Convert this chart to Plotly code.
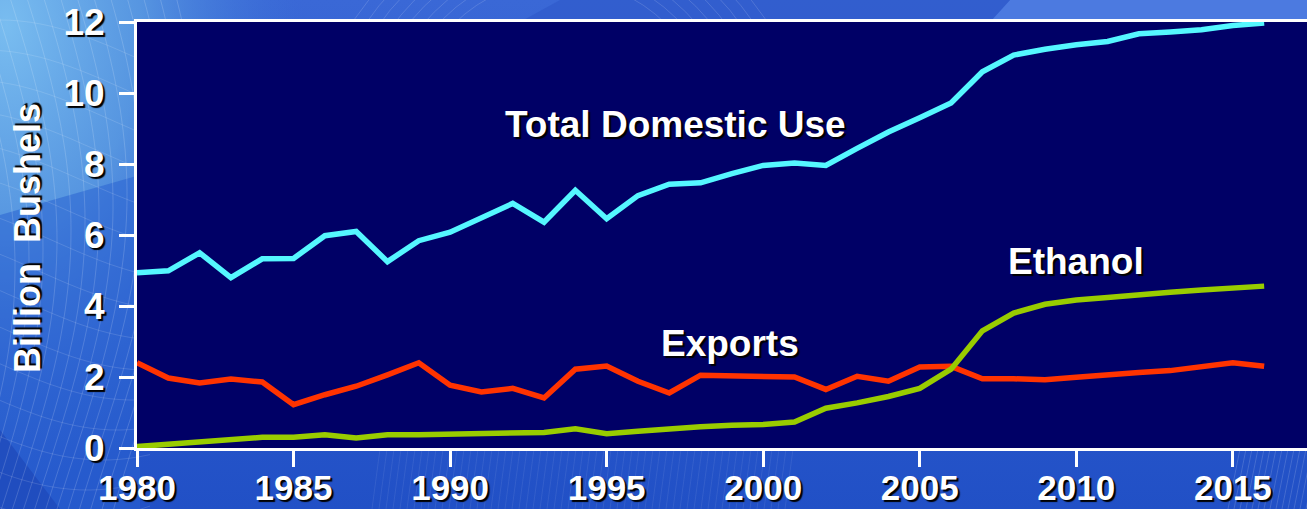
import base64
import math
import plotly.graph_objects as go

# ---- data (billion bushels, US corn) ----
years = list(range(1980, 2017))

total_domestic_use = [
    4.94, 4.99, 5.50, 4.80, 5.33, 5.34, 5.98, 6.10, 5.25, 5.84,
    6.08, 6.48, 6.89, 6.36, 7.26, 6.46, 7.11, 7.43, 7.47, 7.73,
    7.96, 8.03, 7.96, 8.44, 8.90, 9.30, 9.72, 10.60, 11.07, 11.23,
    11.36, 11.45, 11.67, 11.72, 11.78, 11.90, 11.97,
]

exports = [
    2.40, 1.97, 1.83, 1.94, 1.86, 1.22, 1.50, 1.74, 2.06, 2.40,
    1.77, 1.58, 1.68, 1.41, 2.22, 2.31, 1.88, 1.55, 2.05, 2.03,
    2.02, 2.00, 1.65, 2.02, 1.88, 2.28, 2.30, 1.95, 1.95, 1.92,
    1.99, 2.07, 2.13, 2.18, 2.30, 2.40, 2.30,
]

ethanol = [
    0.04, 0.10, 0.16, 0.23, 0.30, 0.30, 0.37, 0.28, 0.37, 0.37,
    0.38, 0.41, 0.43, 0.44, 0.54, 0.40, 0.47, 0.55, 0.60, 0.64,
    0.66, 0.73, 1.12, 1.27, 1.45, 1.68, 2.22, 3.30, 3.80, 4.05,
    4.17, 4.24, 4.33, 4.39, 4.45, 4.52, 4.56,
]

x_tick_years = [1980, 1985, 1990, 1995, 2000, 2005, 2010, 2015]
y_tick_values = [0, 2, 4, 6, 8, 10, 12]

series_labels = ["Total Domestic Use", "Exports", "Ethanol"]
series_colors = ["#55F7FF", "#FF3300", "#99CC00"]

# ---- page geometry ----
W, H = 1307, 509
ML, MR, MT, MB = 137, 0, 22, 61
PX_PER_YEAR = 31.31

FONT = "Liberation Sans, Arial, Helvetica, sans-serif"
SHADOW = "2px 2px 1px #000000"


def slide_background():
    """Blue slide backdrop with a faint wire-mesh swirl."""
    parts = [
        f'<svg xmlns="http://www.w3.org/2000/svg" width="{W}" height="{H}" viewBox="0 0 {W} {H}">',
        '<defs>',
        '<linearGradient id="base" x1="0" y1="0" x2="0" y2="1">'
        '<stop offset="0" stop-color="#3a68d6"/>'
        '<stop offset="1" stop-color="#2150c6"/></linearGradient>',
        '<radialGradient id="glow" cx="0.02" cy="0.05" r="0.9">'
        '<stop offset="0" stop-color="#79bdf0"/>'
        '<stop offset="0.45" stop-color="#5a9be2" stop-opacity="0.9"/>'
        '<stop offset="1" stop-color="#3a72d8" stop-opacity="0"/></radialGradient>',
        '</defs>',
        f'<rect width="{W}" height="{H}" fill="url(#base)"/>',
        f'<rect x="0" y="0" width="330" height="{H}" fill="url(#glow)"/>',
        # darker lower-left wedge
        '<path d="M0,215 L140,175 L140,509 L0,509 Z" fill="#2a62d2" opacity="0.55"/>',
        '<path d="M0,430 L60,509 L0,509 Z" fill="#1c45b6" opacity="0.6"/>',
        # lighter band at the top right
        '<path d="M1010,0 L1307,0 L1307,22 L990,22 Z" fill="#4c7ae0"/>',
        '<path d="M560,0 L1010,0 L990,22 L520,22 Z" fill="#2f5acb" opacity="0.7"/>',
    ]
    # mesh lines on the left
    for i in range(14):
        pts = []
        for k in range(0, 53):
            y = k * 10
            x = -40 + i * 14 + 55 * math.sin((y + i * 9) / 170.0)
            pts.append(f"{x:.1f},{y}")
        parts.append(f'<polyline points="{" ".join(pts)}" fill="none" '
                     f'stroke="#ffffff" stroke-opacity="0.16" stroke-width="1"/>')
    for j in range(16):
        pts = []
        for k in range(0, 16):
            x = k * 10
            y = 60 + j * 30 - 40 * math.cos((x + j * 15) / 90.0)
            pts.append(f"{x},{y:.1f}")
        parts.append(f'<polyline points="{" ".join(pts)}" fill="none" '
                     f'stroke="#ffffff" stroke-opacity="0.13" stroke-width="1"/>')
    # fine strokes along the bottom strip
    for i in range(60):
        x = 380 + i * 7
        parts.append(f'<line x1="{x}" y1="449" x2="{x - 8}" y2="509" '
                     f'stroke="#ffffff" stroke-opacity="0.08" stroke-width="1"/>')
    for i in range(14):
        x = 1240 + i * 6
        parts.append(f'<line x1="{x}" y1="449" x2="{x - 12}" y2="509" '
                     f'stroke="#ffffff" stroke-opacity="0.15" stroke-width="1"/>')
    # arcs along the top strip
    for i in range(8):
        cx = 560
        r = 150 + i * 14
        parts.append(f'<circle cx="{cx}" cy="{130 + i * 4}" r="{r}" fill="none" '
                     f'stroke="#ffffff" stroke-opacity="0.14" stroke-width="1"/>')
    parts.append('</svg>')
    svg = "".join(parts)
    return "data:image/svg+xml;base64," + base64.b64encode(svg.encode()).decode()


fig = go.Figure()

for label, values, color in zip(series_labels, [total_domestic_use, exports, ethanol], series_colors):
    fig.add_trace(go.Scatter(
        x=years, y=values, name=label, mode="lines",
        line=dict(color=color, width=5.5),
        hoverinfo="skip",
    ))

plot_w = W - ML - MR
plot_h = H - MT - MB
x_end = 1980 + plot_w / PX_PER_YEAR

fig.update_layout(
    width=W, height=H,
    margin=dict(l=ML, r=MR, t=MT, b=MB, pad=0),
    paper_bgcolor="#2a5acc",
    plot_bgcolor="#000066",
    showlegend=False,
    xaxis=dict(
        range=[1980, x_end],
        tickvals=x_tick_years,
        ticktext=[str(y) for y in x_tick_years],
        tickfont=dict(family=FONT, size=35, color="white", weight="bold", shadow=SHADOW),
        ticks="outside", ticklen=16, tickwidth=3, tickcolor="white",
        showline=True, linecolor="white", linewidth=3, mirror=True,
        showgrid=False, zeroline=False,
        ticklabelstandoff=-9, automargin=False,
    ),
    yaxis=dict(
        range=[0, 12],
        tickvals=y_tick_values,
        ticktext=[str(v) for v in y_tick_values],
        tickfont=dict(family=FONT, size=37, color="white", weight="bold", shadow=SHADOW),
        ticks="outside", ticklen=15, tickwidth=3, tickcolor="white",
        showline=True, linecolor="white", linewidth=3,
        showgrid=False, zeroline=False,
        ticklabelstandoff=7, automargin=False,
    ),
    images=[dict(
        source=slide_background(),
        xref="paper", yref="paper",
        x=-ML / plot_w, y=1 + MT / plot_h,
        sizex=W / plot_w, sizey=H / plot_h,
        xanchor="left", yanchor="top",
        sizing="stretch", layer="below",
    )],
    # navy panel behind the lines, above the slide backdrop
    shapes=[dict(
        type="rect", xref="paper", yref="paper", x0=0, x1=1, y0=0, y1=1,
        fillcolor="#000066", line=dict(width=0), layer="below",
    )],
)

label_font = dict(family=FONT, size=37, color="white", weight="bold", shadow=SHADOW)

# series labels placed beside their lines
label_positions = [(1997.2, 9.12), (1998.95, 2.94), (2010.0, 5.25)]
for text, (lx, ly) in zip(series_labels, label_positions):
    fig.add_annotation(x=lx, y=ly, xref="x", yref="y", text=text, showarrow=False,
                       xanchor="center", yanchor="middle", font=label_font)

# vertical axis title
fig.add_annotation(
    x=(27 - ML) / plot_w, y=(H - MB - 238) / plot_h, xref="paper", yref="paper",
    text="Billion\u00a0\u00a0Bushels", textangle=-90, showarrow=False,
    xanchor="center", yanchor="middle",
    font=dict(family=FONT, size=36, color="white", weight="bold", shadow=SHADOW),
)

fig.write_html("out.html", config={"displayModeBar": False})
